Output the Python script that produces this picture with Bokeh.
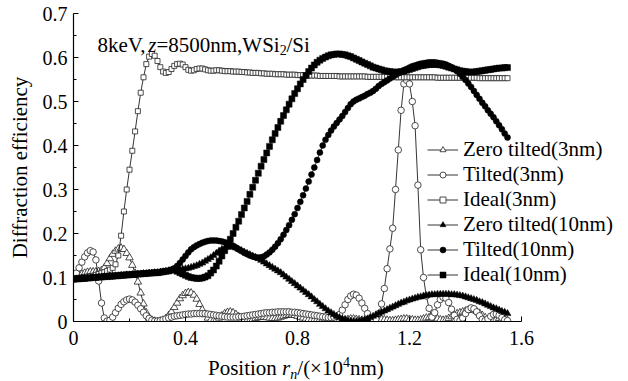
import numpy as np
from bokeh.plotting import figure
from bokeh.layouts import column
from bokeh.models import FixedTicker, Label, Legend, LegendItem, Range1d, Div
from bokeh.embed import file_html
from bokeh.resources import INLINE

# Position r_n (x10^4 nm), common sampling grid
x = np.round(np.arange(0, 1.555, 0.01), 2)

zero_tilted_3 = [
    0.100, 0.103, 0.106, 0.108, 0.110, 0.112, 0.113, 0.113, 0.113, 0.114,
    0.116, 0.122, 0.132, 0.143, 0.153, 0.160, 0.165, 0.167, 0.164, 0.155,
    0.145, 0.128, 0.110, 0.090, 0.065, 0.040, 0.020, 0.008, 0.003, 0.001,
    0.000, 0.001, 0.003, 0.007, 0.014, 0.022, 0.032, 0.042, 0.052, 0.059,
    0.064, 0.066, 0.065, 0.060, 0.051, 0.039, 0.027, 0.016, 0.008, 0.003,
    0.002, 0.004, 0.008, 0.013, 0.018, 0.021, 0.022, 0.020, 0.016, 0.011,
    0.006, 0.003, 0.002, 0.003, 0.005, 0.007, 0.009, 0.010, 0.010, 0.009,
    0.008, 0.007, 0.007, 0.008, 0.010, 0.012, 0.014, 0.015, 0.015, 0.014,
    0.012, 0.010, 0.008, 0.006, 0.005, 0.004, 0.004, 0.004, 0.005, 0.006,
    0.006, 0.006, 0.005, 0.004, 0.003, 0.003, 0.003, 0.004, 0.005, 0.006,
    0.006, 0.005, 0.004, 0.003, 0.002, 0.002, 0.003, 0.004, 0.005, 0.005,
    0.005, 0.004, 0.003, 0.002, 0.002, 0.003, 0.004, 0.005, 0.006, 0.006,
    0.005, 0.004, 0.003, 0.003, 0.004, 0.006, 0.008, 0.009, 0.009, 0.008,
    0.006, 0.004, 0.003, 0.004, 0.007, 0.011, 0.015, 0.018, 0.020, 0.022,
    0.024, 0.026, 0.027, 0.026, 0.023, 0.019, 0.014, 0.009, 0.005, 0.003,
    0.003, 0.005, 0.007, 0.006, 0.004, 0.002,
]

tilted_3 = [
    0.100, 0.110, 0.122, 0.135, 0.147, 0.156, 0.161, 0.158, 0.140, 0.092,
    0.042, 0.008, 0.001, 0.003, 0.010, 0.020, 0.030, 0.039, 0.045, 0.049,
    0.051, 0.049, 0.044, 0.037, 0.029, 0.021, 0.013, 0.007, 0.003, 0.001,
    0.001, 0.002, 0.004, 0.006, 0.008, 0.010, 0.012, 0.013, 0.014, 0.015,
    0.016, 0.017, 0.017, 0.018, 0.018, 0.018, 0.018, 0.018, 0.017, 0.016,
    0.015, 0.014, 0.013, 0.012, 0.011, 0.010, 0.010, 0.010, 0.010, 0.011,
    0.011, 0.012, 0.013, 0.014, 0.015, 0.016, 0.017, 0.018, 0.019, 0.020,
    0.020, 0.021, 0.021, 0.022, 0.022, 0.022, 0.022, 0.022, 0.021, 0.021,
    0.020, 0.019, 0.018, 0.017, 0.016, 0.015, 0.014, 0.013, 0.012, 0.011,
    0.010, 0.009, 0.009, 0.010, 0.012, 0.016, 0.026, 0.038, 0.050, 0.058,
    0.062, 0.060, 0.053, 0.042, 0.030, 0.018, 0.008, 0.002, 0.006, 0.018,
    0.040, 0.075, 0.120, 0.165, 0.212, 0.300, 0.390, 0.480, 0.540, 0.548,
    0.540, 0.500, 0.445, 0.310, 0.163, 0.100, 0.058, 0.030, 0.010, 0.020,
    0.038, 0.050, 0.055, 0.053, 0.043, 0.028, 0.014, 0.005, 0.002, 0.008,
    0.018, 0.027, 0.031, 0.029, 0.022, 0.013, 0.005, 0.002, 0.006, 0.012,
    0.016, 0.017, 0.014, 0.009, 0.004, 0.002,
]

ideal_3 = [
    0.097, 0.098, 0.099, 0.100, 0.101, 0.102, 0.103, 0.104, 0.106, 0.108,
    0.110, 0.112, 0.115, 0.118, 0.122, 0.130, 0.150, 0.195, 0.250, 0.300,
    0.345, 0.388, 0.432, 0.478, 0.520, 0.555, 0.585, 0.602, 0.608, 0.604,
    0.592, 0.578, 0.568, 0.565, 0.567, 0.574, 0.581, 0.585, 0.586, 0.584,
    0.578, 0.572, 0.570, 0.571, 0.574, 0.575, 0.575, 0.573, 0.571, 0.570,
    0.570, 0.571, 0.571, 0.570, 0.569, 0.569, 0.569, 0.568, 0.568, 0.568,
    0.567, 0.567, 0.566, 0.566, 0.565, 0.565, 0.565, 0.564, 0.564, 0.563,
    0.563, 0.563, 0.562, 0.562, 0.562, 0.562, 0.561, 0.561, 0.561, 0.561,
    0.560, 0.560, 0.560, 0.560, 0.559, 0.559, 0.559, 0.559, 0.558, 0.558,
    0.558, 0.558, 0.558, 0.558, 0.558, 0.557, 0.557, 0.557, 0.557, 0.557,
    0.557, 0.557, 0.557, 0.557, 0.557, 0.556, 0.556, 0.556, 0.556, 0.556,
    0.556, 0.556, 0.556, 0.556, 0.556, 0.555, 0.555, 0.555, 0.555, 0.555,
    0.555, 0.555, 0.555, 0.555, 0.555, 0.555, 0.555, 0.555, 0.555, 0.555,
    0.554, 0.554, 0.554, 0.554, 0.554, 0.554, 0.554, 0.554, 0.554, 0.554,
    0.554, 0.554, 0.554, 0.554, 0.554, 0.553, 0.553, 0.553, 0.553, 0.553,
    0.553, 0.553, 0.553, 0.553, 0.553, 0.553,
]

zero_tilted_10 = [
    0.096, 0.097, 0.097, 0.098, 0.098, 0.099, 0.099, 0.100, 0.100, 0.101,
    0.101, 0.102, 0.102, 0.103, 0.103, 0.104, 0.104, 0.105, 0.105, 0.106,
    0.106, 0.107, 0.107, 0.108, 0.108, 0.109, 0.109, 0.110, 0.110, 0.111,
    0.111, 0.112, 0.113, 0.114, 0.115, 0.117, 0.117, 0.118, 0.118, 0.119,
    0.120, 0.121, 0.123, 0.125, 0.127, 0.130, 0.133, 0.137, 0.141, 0.145,
    0.150, 0.155, 0.160, 0.164, 0.167, 0.169, 0.170, 0.169, 0.167, 0.164,
    0.161, 0.158, 0.155, 0.152, 0.149, 0.146, 0.143, 0.139, 0.135, 0.131,
    0.127, 0.123, 0.119, 0.115, 0.111, 0.106, 0.101, 0.096, 0.091, 0.086,
    0.081, 0.076, 0.071, 0.066, 0.061, 0.056, 0.050, 0.045, 0.039, 0.034,
    0.029, 0.024, 0.020, 0.016, 0.012, 0.009, 0.006, 0.004, 0.002, 0.001,
    0.000, 0.000, 0.001, 0.002, 0.004, 0.006, 0.009, 0.012, 0.015, 0.018,
    0.021, 0.024, 0.027, 0.030, 0.033, 0.036, 0.039, 0.042, 0.044, 0.047,
    0.049, 0.051, 0.053, 0.055, 0.056, 0.058, 0.059, 0.060, 0.061, 0.061,
    0.062, 0.062, 0.062, 0.062, 0.062, 0.061, 0.061, 0.060, 0.059, 0.058,
    0.056, 0.054, 0.052, 0.050, 0.048, 0.045, 0.043, 0.040, 0.037, 0.034,
    0.031, 0.029, 0.026, 0.023, 0.021, 0.018,
]

tilted_10 = [
    0.096, 0.097, 0.097, 0.098, 0.098, 0.099, 0.099, 0.100, 0.100, 0.101,
    0.101, 0.102, 0.102, 0.103, 0.103, 0.104, 0.104, 0.105, 0.105, 0.106,
    0.106, 0.107, 0.107, 0.108, 0.108, 0.109, 0.109, 0.110, 0.110, 0.111,
    0.111, 0.112, 0.113, 0.114, 0.115, 0.117, 0.121, 0.126, 0.133, 0.141,
    0.149, 0.157, 0.164, 0.169, 0.173, 0.176, 0.179, 0.181, 0.183, 0.184,
    0.184, 0.184, 0.183, 0.182, 0.180, 0.178, 0.175, 0.172, 0.168, 0.164,
    0.160, 0.156, 0.153, 0.150, 0.148, 0.146, 0.145, 0.146, 0.148, 0.152,
    0.157, 0.163, 0.170, 0.178, 0.187, 0.197, 0.208, 0.219, 0.231, 0.244,
    0.258, 0.272, 0.287, 0.302, 0.318, 0.334, 0.350, 0.367, 0.384, 0.400,
    0.413, 0.424, 0.434, 0.443, 0.451, 0.459, 0.467, 0.476, 0.485, 0.494,
    0.500, 0.504, 0.507, 0.510, 0.513, 0.517, 0.520, 0.524, 0.529, 0.535,
    0.540, 0.544, 0.548, 0.552, 0.556, 0.560, 0.564, 0.567, 0.571, 0.574,
    0.577, 0.580, 0.582, 0.584, 0.586, 0.587, 0.588, 0.589, 0.589, 0.589,
    0.588, 0.587, 0.586, 0.584, 0.581, 0.578, 0.574, 0.569, 0.563, 0.556,
    0.549, 0.541, 0.533, 0.524, 0.515, 0.506, 0.497, 0.489, 0.480, 0.472,
    0.464, 0.455, 0.446, 0.437, 0.427, 0.418,
]

ideal_10 = [
    0.096, 0.097, 0.097, 0.098, 0.098, 0.099, 0.099, 0.100, 0.100, 0.101,
    0.101, 0.102, 0.102, 0.103, 0.103, 0.104, 0.104, 0.105, 0.105, 0.106,
    0.106, 0.107, 0.107, 0.108, 0.108, 0.109, 0.109, 0.110, 0.110, 0.111,
    0.111, 0.112, 0.113, 0.114, 0.115, 0.117, 0.117, 0.114, 0.111, 0.108,
    0.105, 0.102, 0.100, 0.099, 0.098, 0.098, 0.099, 0.101, 0.104, 0.110,
    0.117, 0.126, 0.137, 0.149, 0.161, 0.174, 0.187, 0.200, 0.214, 0.228,
    0.243, 0.258, 0.273, 0.289, 0.305, 0.321, 0.337, 0.353, 0.368, 0.383,
    0.398, 0.413, 0.427, 0.441, 0.455, 0.468, 0.481, 0.494, 0.506, 0.518,
    0.529, 0.540, 0.550, 0.559, 0.568, 0.576, 0.583, 0.589, 0.594, 0.598,
    0.601, 0.604, 0.606, 0.607, 0.608, 0.608, 0.607, 0.606, 0.604, 0.602,
    0.599, 0.596, 0.593, 0.590, 0.587, 0.584, 0.581, 0.578, 0.576, 0.574,
    0.572, 0.570, 0.569, 0.568, 0.567, 0.567, 0.567, 0.568, 0.569, 0.571,
    0.573, 0.575, 0.577, 0.579, 0.581, 0.582, 0.583, 0.584, 0.584, 0.584,
    0.584, 0.583, 0.582, 0.580, 0.578, 0.576, 0.574, 0.572, 0.570, 0.569,
    0.568, 0.567, 0.567, 0.567, 0.568, 0.569, 0.570, 0.571, 0.572, 0.573,
    0.574, 0.575, 0.576, 0.576, 0.577, 0.577,
]

x_ticks = [0, 0.4, 0.8, 1.2, 1.6]
x_minor = [0.2, 0.6, 1.0, 1.4]
y_ticks = [0, 0.1, 0.2, 0.3, 0.4, 0.5, 0.6, 0.7]
y_minor = [0.05, 0.15, 0.25, 0.35, 0.45, 0.55, 0.65]
x_axis_end = 1.6

FONT = "'Liberation Serif', 'Times New Roman', Times, serif"

# frame spans px 73..620 (547 px); axis drawn only over 0..1.6 (px 73..521)
p = figure(width=628, height=356, output_backend="svg", toolbar_location=None,
           x_range=Range1d(0, x_axis_end * 547 / 448), y_range=Range1d(0, 0.7),
           min_border_left=73, min_border_right=8, min_border_top=13,
           min_border_bottom=35)
p.outline_line_color = None
p.grid.visible = False
p.background_fill_color = "white"

for ax in (p.xaxis[0], p.yaxis[0]):
    ax.axis_line_color = "black"
    ax.axis_line_width = 1.2
    ax.major_tick_in = 5
    ax.major_tick_out = 0
    ax.minor_tick_in = 3
    ax.minor_tick_out = 0
    ax.major_tick_line_color = "black"
    ax.minor_tick_line_color = "black"
    ax.major_label_text_font = FONT
    ax.major_label_text_font_size = "20px"
    ax.major_label_text_color = "black"

p.xaxis.bounds = (0, x_axis_end)
p.xaxis.ticker = FixedTicker(ticks=x_ticks, minor_ticks=x_minor)
p.yaxis.ticker = FixedTicker(ticks=y_ticks, minor_ticks=y_minor)
p.xaxis.major_label_overrides = {0: "0", 0.4: "0.4", 0.8: "0.8", 1.2: "1.2", 1.6: "1.6"}
p.yaxis.major_label_overrides = {0: "0"}
p.xaxis.major_label_standoff = 9
p.yaxis.major_label_standoff = 6

p.yaxis.axis_label = "Diffraction efficiency"
p.yaxis.axis_label_text_font = FONT
p.yaxis.axis_label_text_font_size = "21px"
p.yaxis.axis_label_text_font_style = "normal"
p.yaxis.axis_label_text_color = "black"
p.yaxis.axis_label_standoff = 8

open_style = dict(fill_color="white", line_color="#222222", line_width=0.8)
line_style = dict(line_color="black", line_width=0.8)
filled = dict(fill_color="black", line_color="black", line_width=0.5)

series = [
    ("Zero tilted(3nm)", zero_tilted_3, "triangle", 7.5, open_style),
    ("Tilted(3nm)", tilted_3, "circle", 6.5, open_style),
    ("Ideal(3nm)", ideal_3, "square", 5, open_style),
    ("Zero tilted(10nm)", zero_tilted_10, "triangle", 7, filled),
    ("Tilted(10nm)", tilted_10, "circle", 6, filled),
    ("Ideal(10nm)", ideal_10, "square", 6, filled),
]

items = []
for name, ys, marker, size, style in series:
    lr = p.line(x, ys, **line_style)
    sr = p.scatter(x, ys, marker=marker, size=size, **style)
    items.append(LegendItem(label=name, renderers=[lr, sr]))

legend = Legend(items=items, location=(354, 34), orientation="vertical",
                label_text_font=FONT, label_text_font_size="21px",
                label_text_color="black", glyph_width=31, glyph_height=15,
                label_height=25, label_standoff=5, spacing=0, padding=0,
                margin=0, border_line_color=None, background_fill_alpha=0)
p.add_layout(legend)

def lab(text, x, y, size="21px", style="normal"):
    p.add_layout(Label(x=x, y=y, x_units="screen", y_units="screen", text=text,
                       text_font=FONT, text_font_size=size, text_font_style=style,
                       text_color="black", text_baseline="alphabetic"))

# annotation inside plot
lab("8keV,", 24, 277)
lab("z", 74.7, 277, style="italic")
lab("=8500nm,WSi", 82.9, 277)
lab("2", 206.2, 272, size="14px")
lab("/Si", 213, 277)

xlabel = Div(
    text=("<span style=\"font-family:'Liberation Serif','Times New Roman',serif;"
          "font-size:21px;line-height:25px;white-space:nowrap;color:black\">"
          "Position <i>r</i><sub style=\"font-size:14px;line-height:0;vertical-align:-4px\"><i>n</i></sub>"
          "/(\u00d710<sup style=\"font-size:14px;line-height:0;vertical-align:8px\">4</sup>nm)</span>"),
    width=628, height=25, margin=(0, 0, 0, 0),
    styles={"padding-left": "208px", "line-height": "25px"},
)

layout = column(p, xlabel, spacing=0)
open("out.html", "w").write(file_html(layout, INLINE))
